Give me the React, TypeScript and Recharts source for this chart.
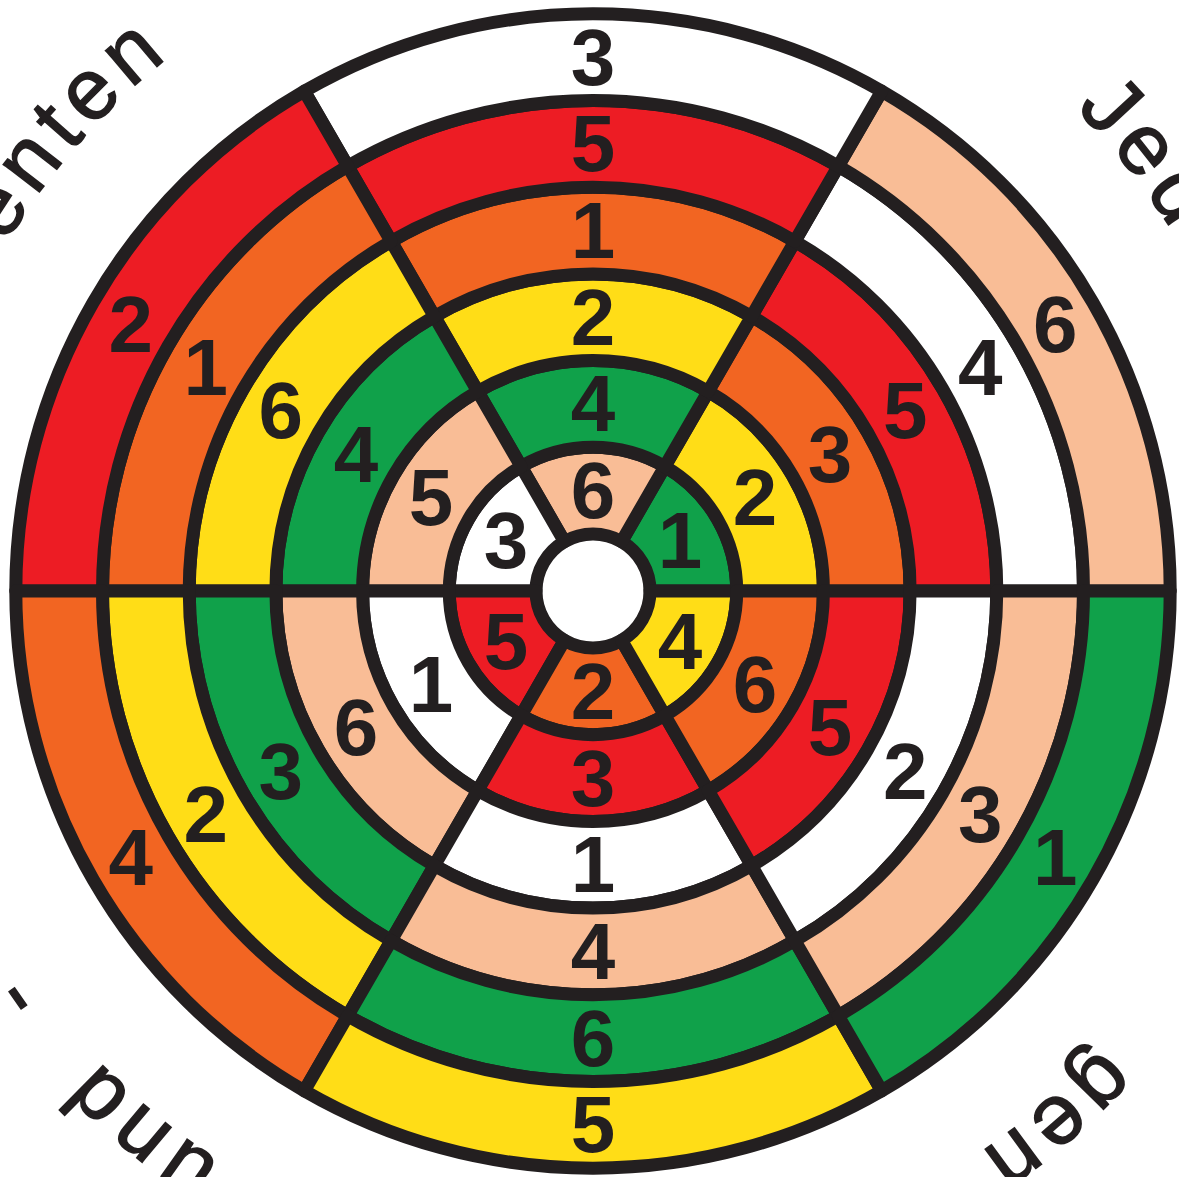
import { PieChart, Pie, Cell } from "recharts";

// sectors go counter-clockwise from 3 o'clock, 60 degrees each
const sectors = ["A", "B", "C", "D", "E", "F"];

// number written in every cell, ring 1 = innermost
const ring1 = [1, 6, 3, 5, 2, 4];
const ring2 = [2, 4, 5, 1, 3, 6];
const ring3 = [3, 2, 4, 6, 1, 5];
const ring4 = [5, 1, 6, 3, 4, 2];
const ring5 = [4, 5, 1, 2, 6, 3];
const ring6 = [6, 3, 2, 4, 5, 1];
const rings = [ring1, ring2, ring3, ring4, ring5, ring6];

// words running round the edge (partly cut off by the frame)
const edgeWords = ["Talenten", "Jeder", "gen", "und", "-"];

const W = 1179;
const H = 1177;
const CX = 593;
const CY = 591;
const HOLE = 57;
const STEP = 86.7;
const INK = "#231f20";
const RAD = Math.PI / 180;

// colour shifts one sector per ring
const palette = ["#10a14a", "#f9bd96", "#ffffff", "#ed1c24", "#f26522", "#ffdd17"];
const cellColor = (ring: number, sector: number) =>
  palette[(((sector - ring) % 6) + 6) % 6];

const renderLabel = (nums: number[]) => (props: any) => {
  const { cx, cy, midAngle, innerRadius, outerRadius, index } = props;
  const r = (innerRadius + outerRadius) / 2;
  const x = cx + r * Math.cos(-midAngle * RAD);
  const y = cy + r * Math.sin(-midAngle * RAD);
  return (
    <text
      x={x}
      y={y}
      fill={INK}
      textAnchor="middle"
      dominantBaseline="central"
      fontFamily="'Liberation Sans', Arial, sans-serif"
      fontWeight={700}
      fontSize={80}
    >
      {nums[index]}
    </text>
  );
};

// position along a clockwise circle that starts at 12 o'clock
const TEXT_R = 682;
const arcPos = (deg: number) => {
  const a = (((90 - deg) % 360) + 360) % 360;
  return TEXT_R * a * RAD;
};

function EdgeText() {
  const path =
    `M ${CX} ${CY - TEXT_R} A ${TEXT_R} ${TEXT_R} 0 1 1 ${CX} ${CY + TEXT_R} ` +
    `A ${TEXT_R} ${TEXT_R} 0 1 1 ${CX} ${CY - TEXT_R}`;
  const items = [
    { word: edgeWords[0], at: 128, anchor: "end" },
    { word: edgeWords[1], at: 45, anchor: "start" },
    { word: edgeWords[2], at: -49, anchor: "middle" },
    { word: edgeWords[3], at: -130, anchor: "middle" },
    { word: edgeWords[4], at: -145, anchor: "middle" },
  ];
  return (
    <svg
      width={W}
      height={H}
      style={{ position: "absolute", left: 0, top: 0, pointerEvents: "none" }}
    >
      <defs>
        <path id="edge" d={path} />
      </defs>
      {items.map((it) => (
        <text
          key={it.word}
          fill={INK}
          stroke={INK}
          strokeWidth={1.5}
          fontFamily="'Liberation Sans', Arial, sans-serif"
          fontSize={86}
          letterSpacing={8}
          textAnchor={it.anchor}
        >
          <textPath href="#edge" startOffset={arcPos(it.at)}>
            {it.word}
          </textPath>
        </text>
      ))}
    </svg>
  );
}

export default function App() {
  return (
    <div
      style={{
        position: "absolute",
        left: 0,
        top: 0,
        width: W,
        height: H,
        overflow: "hidden",
        background: "#fff",
      }}
    >
      <PieChart width={W} height={H} margin={{ top: 0, right: 0, bottom: 0, left: 0 }}>
        {rings.map((nums, ri) => (
          <Pie
            key={ri}
            data={sectors.map((s) => ({ name: s, value: 1 }))}
            dataKey="value"
            cx={CX}
            cy={CY}
            innerRadius={HOLE + ri * STEP}
            outerRadius={HOLE + (ri + 1) * STEP}
            startAngle={0}
            endAngle={360}
            stroke={INK}
            strokeWidth={13}
            strokeLinejoin="round"
            label={renderLabel(nums)}
            labelLine={false}
            isAnimationActive={false}
          >
            {sectors.map((s, si) => (
              <Cell key={s} fill={cellColor(ri, si)} />
            ))}
          </Pie>
        ))}
      </PieChart>
      <EdgeText />
    </div>
  );
}
